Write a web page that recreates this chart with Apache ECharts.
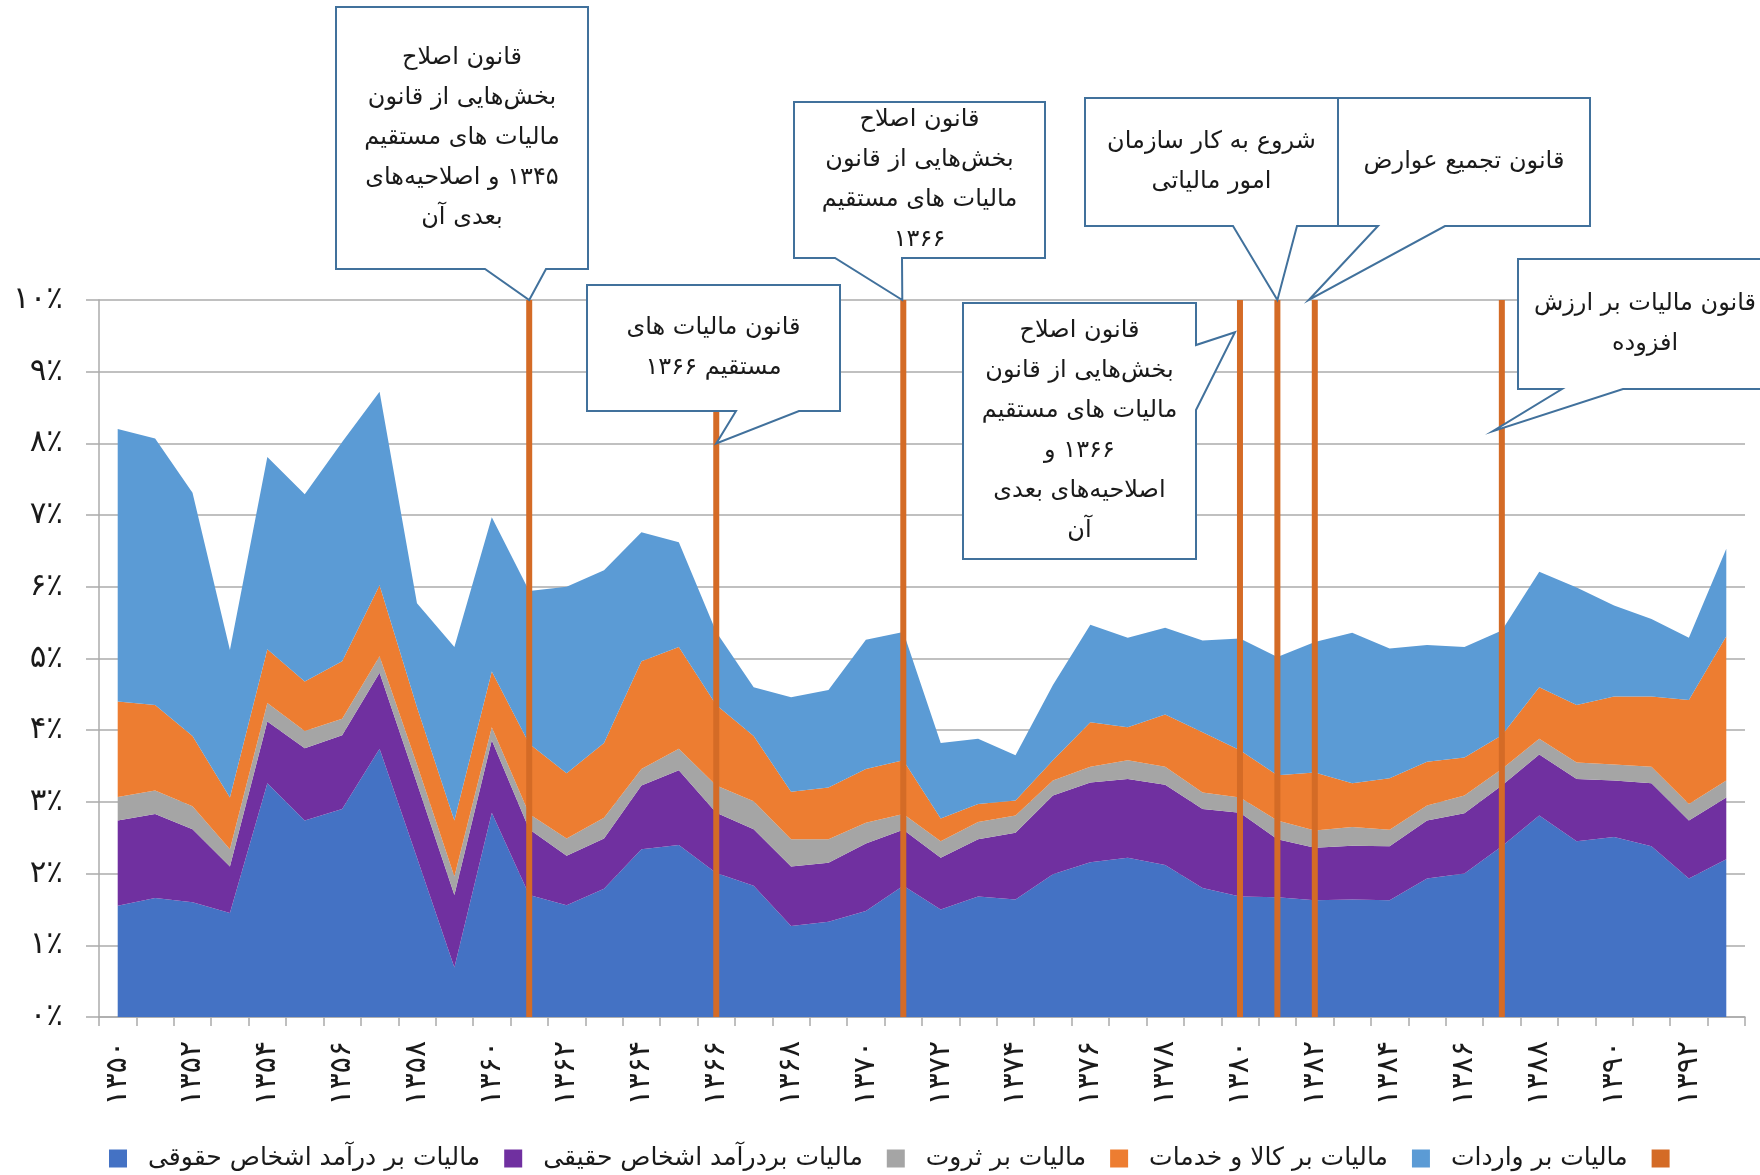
<!DOCTYPE html>
<html>
<head>
<meta charset="utf-8">
<script src="https://cdn.jsdelivr.net/npm/echarts@6/dist/echarts.min.js"></script>
<style>
  html, body { margin: 0; padding: 0; background: #fff; }
  #chart { width: 1760px; height: 1175px; }
</style>
</head>
<body>
<div id="chart" dir="rtl"></div>
<script>
// years 1350..1393 (solar hijri)
const years = ['۱۳۵۰', '۱۳۵۱', '۱۳۵۲', '۱۳۵۳', '۱۳۵۴', '۱۳۵۵', '۱۳۵۶', '۱۳۵۷', '۱۳۵۸', '۱۳۵۹',
  '۱۳۶۰', '۱۳۶۱', '۱۳۶۲', '۱۳۶۳', '۱۳۶۴', '۱۳۶۵', '۱۳۶۶', '۱۳۶۷', '۱۳۶۸', '۱۳۶۹',
  '۱۳۷۰', '۱۳۷۱', '۱۳۷۲', '۱۳۷۳', '۱۳۷۴', '۱۳۷۵', '۱۳۷۶', '۱۳۷۷', '۱۳۷۸', '۱۳۷۹',
  '۱۳۸۰', '۱۳۸۱', '۱۳۸۲', '۱۳۸۳', '۱۳۸۴', '۱۳۸۵', '۱۳۸۶', '۱۳۸۷', '۱۳۸۸', '۱۳۸۹',
  '۱۳۹۰', '۱۳۹۱', '۱۳۹۲', '۱۳۹۳'];

// share of GDP, percent
const corporateIncome = [1.55, 1.66, 1.60, 1.45, 3.26, 2.74, 2.90, 3.74, 2.22, 0.69, 2.85, 1.70, 1.56, 1.79, 2.34, 2.40, 2.01, 1.83, 1.27, 1.33, 1.48, 1.83, 1.50, 1.68, 1.64, 1.99, 2.16, 2.22, 2.12, 1.80, 1.68, 1.67, 1.63, 1.64, 1.63, 1.93, 2.00, 2.38, 2.81, 2.45, 2.51, 2.38, 1.93, 2.20];
const personalIncome = [1.19, 1.17, 1.02, 0.65, 0.86, 1.01, 1.03, 1.06, 1.04, 1.01, 1.01, 0.92, 0.69, 0.70, 0.89, 1.04, 0.84, 0.79, 0.83, 0.82, 0.94, 0.78, 0.72, 0.80, 0.93, 1.10, 1.11, 1.10, 1.12, 1.10, 1.17, 0.81, 0.73, 0.75, 0.75, 0.81, 0.84, 0.85, 0.85, 0.87, 0.79, 0.88, 0.81, 0.86];
const wealthTax = [0.33, 0.33, 0.32, 0.24, 0.26, 0.24, 0.23, 0.23, 0.26, 0.26, 0.18, 0.21, 0.24, 0.29, 0.23, 0.30, 0.38, 0.39, 0.38, 0.33, 0.29, 0.22, 0.23, 0.24, 0.24, 0.21, 0.22, 0.26, 0.25, 0.23, 0.21, 0.26, 0.24, 0.26, 0.23, 0.21, 0.25, 0.23, 0.22, 0.23, 0.22, 0.23, 0.23, 0.24];
const goodsServices = [1.33, 1.19, 0.98, 0.72, 0.75, 0.69, 0.80, 0.99, 0.80, 0.78, 0.78, 0.98, 0.91, 1.04, 1.50, 1.42, 1.12, 0.91, 0.66, 0.72, 0.75, 0.75, 0.32, 0.25, 0.21, 0.28, 0.62, 0.46, 0.73, 0.84, 0.66, 0.63, 0.81, 0.61, 0.72, 0.61, 0.53, 0.47, 0.72, 0.80, 0.95, 0.98, 1.45, 2.01];
const importTax = [3.80, 3.72, 3.39, 2.06, 2.68, 2.61, 3.06, 2.70, 1.45, 2.42, 2.15, 2.13, 2.60, 2.41, 1.80, 1.46, 1.02, 0.68, 1.32, 1.36, 1.80, 1.79, 1.05, 0.91, 0.63, 1.05, 1.36, 1.25, 1.21, 1.28, 1.56, 1.65, 1.82, 2.10, 1.81, 1.63, 1.54, 1.46, 1.61, 1.64, 1.27, 1.08, 0.87, 1.22];

const seriesNames = ['مالیات بر درآمد اشخاص حقوقی', 'مالیات بردرآمد اشخاص حقیقی', 'مالیات بر ثروت', 'مالیات بر کالا و خدمات', 'مالیات بر واردات'];
const seriesColors = ['#4472C4', '#7030A0', '#A5A5A5', '#ED7D31', '#5B9BD5'];

// years with a tax law change, drawn as full-height markers
const reformYears = ['۱۳۶۱', '۱۳۶۶', '۱۳۷۱', '۱۳۸۰', '۱۳۸۱', '۱۳۸۲', '۱۳۸۷'];
const reformHeight = 10;

const callouts = [
  { year: '۱۳۶۱', value: 10, lines: ['قانون اصلاح', 'بخش‌هایی از قانون', 'مالیات های مستقیم', '۱۳۴۵ و اصلاحیه‌های', 'بعدی آن'] },
  { year: '۱۳۶۶', value: 8, lines: ['قانون مالیات های', 'مستقیم ۱۳۶۶'] },
  { year: '۱۳۷۱', value: 10, lines: ['قانون اصلاح', 'بخش‌هایی از قانون', 'مالیات های مستقیم', '۱۳۶۶'] },
  { year: '۱۳۸۰', value: 9.55, lines: ['قانون اصلاح', 'بخش‌هایی از قانون', 'مالیات های مستقیم', '۱۳۶۶ و', 'اصلاحیه‌های بعدی', 'آن'] },
  { year: '۱۳۸۱', value: 10, lines: ['شروع به کار سازمان', 'امور مالیاتی'] },
  { year: '۱۳۸۲', value: 10, lines: ['قانون تجمیع عوارض'] },
  { year: '۱۳۸۷', value: 8.17, lines: ['قانون مالیات بر ارزش', 'افزوده'] }
];

// callout box layout in pixels (box, pointer base on the given side, tip nudge)
const calloutBoxes = [
  { x0: 336, y0: 7, x1: 588, y1: 269, side: 'bottom', a: 485, b: 546, dx: 0 },
  { x0: 587, y0: 285, x1: 840, y1: 411, side: 'bottom', a: 736, b: 799, dx: 0 },
  { x0: 794, y0: 102, x1: 1045, y1: 258, side: 'bottom', a: 835, b: 902, dx: -1 },
  { x0: 963, y0: 303, x1: 1196, y1: 559, side: 'right', a: 345, b: 410, dx: -5 },
  { x0: 1085, y0: 98, x1: 1338, y1: 226, side: 'bottom', a: 1233, b: 1297, dx: 0 },
  { x0: 1338, y0: 98, x1: 1590, y1: 226, side: 'bottom', a: 1378, b: 1445, dx: -6 },
  { x0: 1518, y0: 259, x1: 1772, y1: 389, side: 'bottom', a: 1562, b: 1623, dx: -9 }
];

const FONT = "'DejaVu Sans', sans-serif";
const TEXT_COLOR = '#1a1a1a';
const GRID_COLOR = '#ABABAB';

const faDigits = '۰۱۲۳۴۵۶۷۸۹';
const toFa = n => String(n).replace(/\d/g, d => faDigits[+d]);

const chart = echarts.init(document.getElementById('chart'));

const stackData = [corporateIncome, personalIncome, wealthTax, goodsServices, importTax];

const areaSeries = stackData.map((data, i) => ({
  name: seriesNames[i],
  type: 'line',
  stack: 'total',
  data: data,
  symbol: 'none',
  showSymbol: false,
  lineStyle: { width: 0 },
  itemStyle: { color: seriesColors[i] },
  areaStyle: { color: seriesColors[i], opacity: 1 },
  emphasis: { disabled: true }
}));

const reformSeries = {
  name: ' ',
  type: 'bar',
  barWidth: 6,
  data: years.map(y => reformYears.includes(y) ? reformHeight : '-'),
  itemStyle: { color: '#D46B26' },
  z: 5
};

const option = {
  animation: false,
  backgroundColor: '#fff',
  grid: {
    left: 99,
    right: 15,
    top: 300,
    bottom: 158,
    containLabel: false,
    outerBoundsMode: 'none'
  },
  legend: {
    left: 104,
    top: 1141,
    icon: 'rect',
    itemWidth: 18,
    itemHeight: 18,
    itemGap: 24,
    selectedMode: false,
    textStyle: { fontFamily: FONT, fontSize: 25, color: TEXT_COLOR, padding: [0, 0, 0, 16] },
    data: [...seriesNames, ' ']
  },
  xAxis: {
    type: 'category',
    data: years,
    boundaryGap: true,
    axisLine: { lineStyle: { color: GRID_COLOR, width: 1.5 } },
    axisTick: { show: true, interval: 0, length: 9, lineStyle: { color: GRID_COLOR, width: 1.5 } },
    axisLabel: {
      interval: 1,
      rotate: 90,
      margin: 24,
      fontFamily: FONT,
      fontSize: 30,
      color: TEXT_COLOR
    },
    splitLine: { show: false }
  },
  yAxis: {
    type: 'value',
    min: 0,
    max: 10,
    interval: 1,
    axisLine: { show: true, lineStyle: { color: GRID_COLOR, width: 1.5 } },
    axisTick: { show: true, length: 13, lineStyle: { color: GRID_COLOR, width: 1.5 } },
    axisLabel: {
      margin: 36,
      fontFamily: FONT,
      fontSize: 31,
      color: TEXT_COLOR,
      formatter: v => toFa(v) + '٪'
    },
    splitLine: { lineStyle: { color: GRID_COLOR, width: 1.5 } }
  },
  series: [...areaSeries, reformSeries]
};

chart.setOption(option);

// callouts pointing at the reform markers
const graphics = [];
callouts.forEach((c, k) => {
  const b = calloutBoxes[k];
  const tip = chart.convertToPixel({ xAxisIndex: 0, yAxisIndex: 0 }, [c.year, c.value]);
  const tx = tip[0] + (b.dx || 0);
  const ty = tip[1];
  let pts;
  if (b.side === 'bottom') {
    pts = [[b.x0, b.y0], [b.x1, b.y0], [b.x1, b.y1], [b.b, b.y1], [tx, ty], [b.a, b.y1], [b.x0, b.y1]];
  } else {
    pts = [[b.x0, b.y0], [b.x1, b.y0], [b.x1, b.a], [tx, ty], [b.x1, b.b], [b.x1, b.y1], [b.x0, b.y1]];
  }
  graphics.push({
    type: 'polygon',
    z: 100,
    silent: true,
    shape: { points: pts },
    style: { fill: '#fff', stroke: '#41719C', lineWidth: 2 }
  });
  graphics.push({
    type: 'text',
    z: 101,
    silent: true,
    style: {
      text: c.lines.join('\n'),
      x: (b.x0 + Math.min(b.x1, 1772)) / 2,
      y: (b.y0 + b.y1) / 2,
      align: 'center',
      textAlign: 'center',
      verticalAlign: 'middle',
      textVerticalAlign: 'middle',
      font: '24px ' + FONT,
      lineHeight: 40,
      fill: TEXT_COLOR
    }
  });
});
chart.setOption({ graphic: graphics });
</script>
</body>
</html>
